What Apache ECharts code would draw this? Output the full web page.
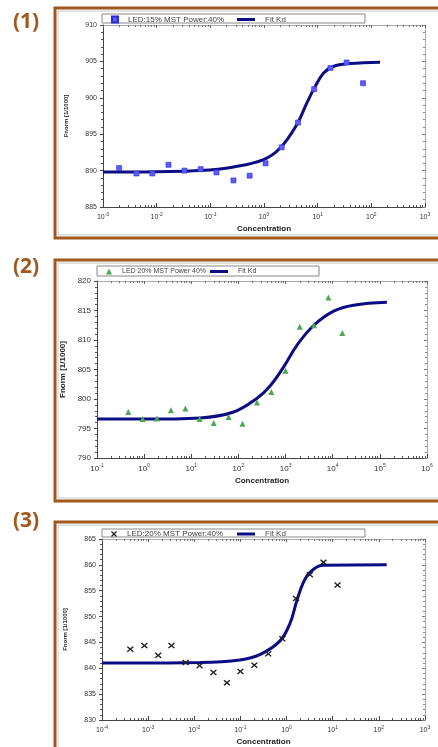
<!DOCTYPE html>
<html>
<head>
<meta charset="utf-8">
<script src="https://cdn.jsdelivr.net/npm/echarts@6/dist/echarts.min.js"></script>
<style>
  html, body { margin: 0; padding: 0; background: #fff; }
  #main { width: 438px; height: 747px; }
</style>
</head>
<body>
<div id="main"></div>
<script>
// MST binding curves, three runs
// panel 1
var conc1 = [0.002, 0.0042, 0.0083, 0.0166, 0.033, 0.066, 0.13, 0.27, 0.54, 1.07, 2.14, 4.3, 8.6, 17.3, 34.5, 70];
var fnorm1 = [890.35, 889.6, 889.6, 890.8, 890.0, 890.2, 889.75, 888.65, 889.3, 891.0, 893.2, 896.6, 901.2, 904.1, 904.85, 902.0];
var fitX1 = [0.001, 0.01, 0.065, 0.27, 0.98, 2.0, 4.07, 6.3, 8.9, 12.9, 19.5, 39.8, 145];
var fitY1 = [889.8, 889.85, 890.0, 890.5, 891.5, 893.1, 896.3, 899.3, 901.5, 903.4, 904.3, 904.7, 904.9];
// panel 2
var conc2 = [0.46, 0.93, 1.87, 3.7, 7.5, 15, 30, 62, 122, 247, 500, 1000, 2000, 4000, 8100, 16000];
var fnorm2 = [797.8, 796.6, 796.7, 798.1, 798.4, 796.6, 795.95, 796.95, 795.8, 799.4, 801.2, 804.8, 812.25, 812.5, 817.2, 811.2];
var fitX2 = [0.1, 1, 15.5, 79, 245, 479, 912, 1738, 3981, 10470, 27540, 141000];
var fitY2 = [796.6, 796.6, 796.8, 797.8, 800.1, 802.3, 805.45, 809.1, 812.5, 814.9, 815.9, 816.4];
// panel 3
var conc3 = [0.00041, 0.00083, 0.00165, 0.0032, 0.0065, 0.013, 0.026, 0.051, 0.10, 0.20, 0.40, 0.81, 1.6, 3.2, 6.3, 12.7];
var fnorm3 = [843.7, 844.4, 842.5, 844.4, 841.1, 840.5, 839.2, 837.2, 839.4, 840.6, 842.8, 845.7, 853.5, 858.1, 860.5, 856.1];
var fitX3 = [0.0001, 0.0135, 0.098, 0.27, 0.72, 1.2, 1.66, 2.29, 3.24, 6.3, 148];
var fitY3 = [841.0, 841.1, 841.6, 842.7, 845.3, 848.8, 853.0, 856.5, 858.6, 859.9, 860.0];

var names = ['LED:15% MST Power:40%', 'LED 20% MST Power 40%', 'LED:20% MST Power:40%'];
var panelTags = ['(1)', '(2)', '(3)'];
var xRange = [[1e-3, 1e3], [1e-1, 1e6], [1e-4, 1e3]];
var yRange = [[885, 910], [790, 820], [830, 865]];

var chart = echarts.init(document.getElementById('main'));

var brown = '#A0581F';
var fitColor = '#0c0c85';
var fontFam = 'Liberation Sans, Arial, sans-serif';

// layout of each panel: frame, grid, legend box
var frames = [
    { y: 8, h: 230 },
    { y: 260, h: 241 },
    { y: 522, h: 260 }
];
var grids = [
    { left: 103, top: 25, width: 322, height: 182 },
    { left: 97, top: 281, width: 330, height: 177 },
    { left: 102, top: 539, width: 323, height: 182 }
];
var legendBoxes = [
    { x: 102, y: 14, w: 263, h: 9, fitX: 237 },
    { x: 97, y: 266, w: 222, h: 10, fitX: 210 },
    { x: 102, y: 529, w: 263, h: 8, fitX: 237 }
];
var tagY = [12, 257, 511];

function logLabel(v) {
    var e = Math.round(Math.log(v) / Math.LN10);
    return '{b|10}{s|' + e + '}';
}

var xAxes = [], yAxes = [], series = [], legends = [], graphics = [];

for (var i = 0; i < 3; i++) {
    var big = (i === 1);
    xAxes.push({
        type: 'log', logBase: 10, gridIndex: i,
        min: xRange[i][0], max: xRange[i][1],
        name: 'Concentration', nameLocation: 'middle', nameGap: big ? 19 : 18,
        nameTextStyle: { fontSize: 8, fontWeight: 'bold', color: '#222', fontFamily: fontFam },
        axisLine: { lineStyle: { color: '#444', width: 1 } },
        axisTick: { inside: true, length: 4, lineStyle: { color: '#444' } },
        minorTick: { show: true, splitNumber: 9, length: 2, lineStyle: { color: '#555' } },
        splitLine: { show: false },
        axisLabel: {
            formatter: logLabel, margin: 5,
            rich: {
                b: { fontSize: big ? 8 : 7, color: '#333', fontFamily: fontFam, lineHeight: 11 },
                s: { fontSize: 5, color: '#333', fontFamily: fontFam, verticalAlign: 'top', lineHeight: 6 }
            }
        }
    });
    xAxes.push({
        type: 'log', logBase: 10, gridIndex: i, position: 'top',
        min: xRange[i][0], max: xRange[i][1],
        axisLine: { lineStyle: { color: '#aaa', width: 1 } },
        axisTick: { inside: true, length: 3, lineStyle: { color: '#666' } },
        minorTick: { show: true, splitNumber: 9, length: 2, lineStyle: { color: '#777' } },
        splitLine: { show: false },
        axisLabel: { show: false }
    });
    yAxes.push({
        type: 'value', gridIndex: i,
        min: yRange[i][0], max: yRange[i][1], interval: 5,
        name: 'Fnorm [1/1000]', nameLocation: 'middle', nameGap: big ? 29 : 34,
        nameTextStyle: { fontSize: big ? 8 : 6, fontWeight: 'bold', color: '#222', fontFamily: fontFam },
        axisLine: { lineStyle: { color: '#444', width: 1 } },
        axisTick: { inside: false, length: 3, lineStyle: { color: '#444' } },
        minorTick: { show: true, splitNumber: 5, length: 2, lineStyle: { color: '#555' } },
        splitLine: { show: false },
        axisLabel: { fontSize: big ? 8 : 7, color: '#333', fontFamily: fontFam, margin: 6 }
    });
    yAxes.push({
        type: 'value', gridIndex: i, position: 'right',
        min: yRange[i][0], max: yRange[i][1], interval: 5,
        axisLine: { lineStyle: { color: '#aaa', width: 1 } },
        axisTick: { inside: true, length: 3, lineStyle: { color: '#777' } },
        minorTick: { show: true, splitNumber: 5, length: 2, lineStyle: { color: '#888' } },
        splitLine: { show: false },
        axisLabel: { show: false }
    });

    var lb = legendBoxes[i];
    var legText = { fontSize: big ? 7 : 8, color: '#444', fontFamily: fontFam, padding: [0, 0, 0, 5] };
    // marker legend
    legends.push({
        left: lb.x + 9, top: lb.y + lb.h / 2 - 3, height: 6,
        itemWidth: 6, itemHeight: 6, padding: 0,
        data: [names[i]],
        textStyle: legText,
        selectedMode: false
    });
    // fit line legend
    legends.push({
        left: lb.fitX, top: lb.y + lb.h / 2 - 3, height: 6,
        itemWidth: 18, itemHeight: 3, padding: 0,
        data: [{ name: 'Fit Kd', icon: 'rect' }],
        textStyle: legText,
        selectedMode: false
    });

    // brown frame + inner line
    var f = frames[i];
    graphics.push({
        type: 'rect', shape: { x: 55, y: f.y, width: 420, height: f.h },
        style: { fill: null, stroke: brown, lineWidth: 3 }, z: 10
    });
    graphics.push({
        type: 'rect', shape: { x: 58, y: f.y + 3, width: 420, height: f.h - 6 },
        style: { fill: null, stroke: '#c8c8c8', lineWidth: 1 }, z: 10
    });
    graphics.push({
        type: 'rect', shape: { x: lb.x, y: lb.y, width: lb.w, height: lb.h },
        style: { fill: '#fff', stroke: '#888', lineWidth: 1 }, z: 0
    });
    graphics.push({
        type: 'text', left: 13, top: tagY[i],
        style: { text: panelTags[i], fill: brown, font: 'bold 21px "Open Sans", "Liberation Sans", sans-serif' }
    });
}

function pairs(xs, ys) {
    var out = [];
    for (var k = 0; k < xs.length; k++) out.push([xs[k], ys[k]]);
    return out;
}

var crossPath = 'path://M0,1.5L1.5,0L5,3.5L8.5,0L10,1.5L6.5,5L10,8.5L8.5,10L5,6.5L1.5,10L0,8.5L3.5,5Z';

series.push({
    name: names[0], type: 'scatter', xAxisIndex: 0, yAxisIndex: 0,
    symbol: 'rect', symbolSize: 5,
    itemStyle: { color: '#5b5bff', borderColor: '#2b2bd8', borderWidth: 0.6, opacity: 1 },
    data: pairs(conc1, fnorm1), z: 3
});
series.push({
    name: 'Fit Kd', type: 'line', xAxisIndex: 0, yAxisIndex: 0,
    smooth: 0.4, showSymbol: false, symbol: 'none',
    lineStyle: { color: fitColor, width: 3 }, itemStyle: { color: fitColor },
    data: pairs(fitX1, fitY1), z: 2
});
series.push({
    name: names[1], type: 'scatter', xAxisIndex: 2, yAxisIndex: 2,
    symbol: 'triangle', symbolSize: [6, 6],
    itemStyle: { color: '#4aa852', opacity: 1 },
    data: pairs(conc2, fnorm2), z: 3
});
series.push({
    name: 'Fit Kd', type: 'line', xAxisIndex: 2, yAxisIndex: 2,
    smooth: 0.4, showSymbol: false, symbol: 'none',
    lineStyle: { color: fitColor, width: 3 }, itemStyle: { color: fitColor },
    data: pairs(fitX2, fitY2), z: 2
});
series.push({
    name: names[2], type: 'scatter', xAxisIndex: 4, yAxisIndex: 4,
    symbol: crossPath, symbolSize: [7, 6],
    itemStyle: { color: '#222', opacity: 1 },
    data: pairs(conc3, fnorm3), z: 3
});
series.push({
    name: 'Fit Kd', type: 'line', xAxisIndex: 4, yAxisIndex: 4,
    smooth: 0.4, showSymbol: false, symbol: 'none',
    lineStyle: { color: fitColor, width: 3 }, itemStyle: { color: fitColor },
    data: pairs(fitX3, fitY3), z: 2
});

var option = {
    backgroundColor: '#fff',
    animation: false,
    textStyle: { fontFamily: fontFam },
    grid: grids.map(function (g) { return { left: g.left, top: g.top, width: g.width, height: g.height, containLabel: false }; }),
    legend: legends,
    xAxis: xAxes,
    yAxis: yAxes,
    series: series,
    graphic: graphics
};

chart.setOption(option);
</script>
</body>
</html>
